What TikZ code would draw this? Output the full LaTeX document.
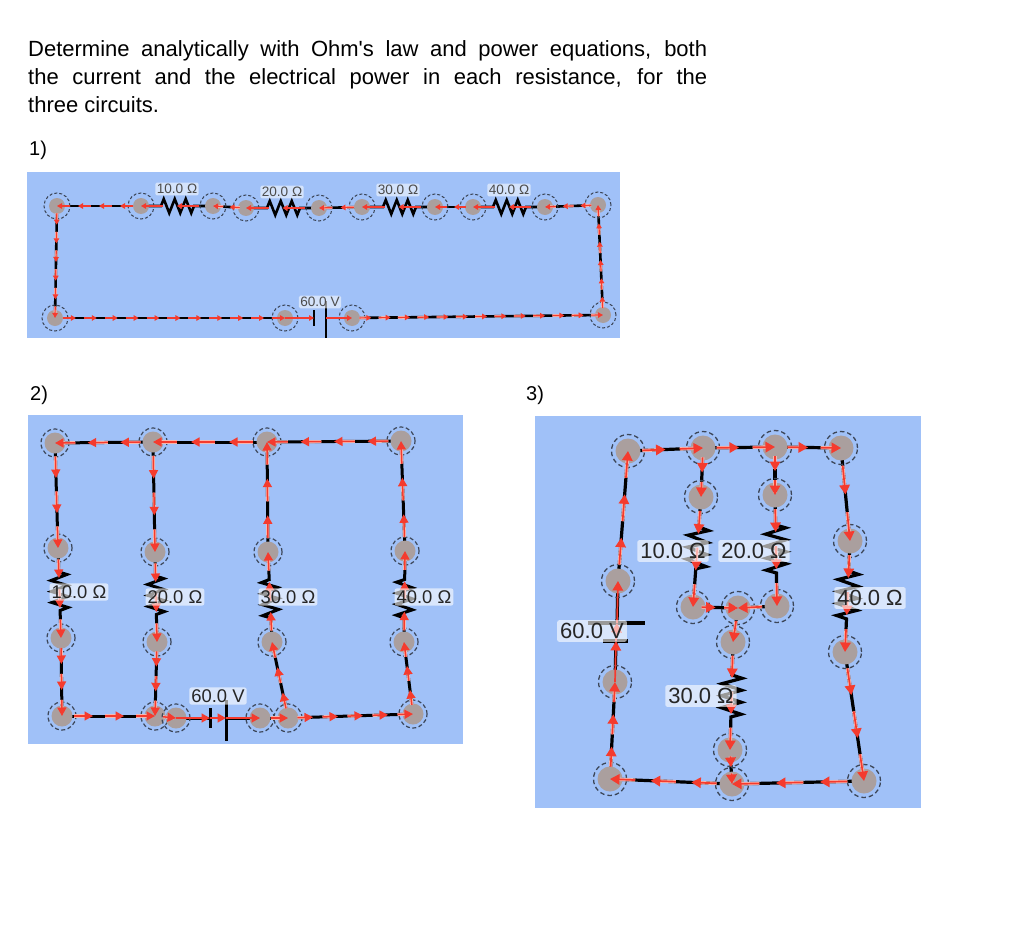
\documentclass[tikz,border=0pt]{standalone}
\usepackage{fontspec}
\newfontfamily\hv{Liberation Sans}
\usetikzlibrary{calc,arrows.meta,decorations.pathmorphing}
\pgfdeclarelayer{wirelayer}\pgfdeclarelayer{arrowlayer}\pgfdeclarelayer{labellayer}
\pgfsetlayers{wirelayer,main,arrowlayer,labellayer}
\definecolor{panel}{HTML}{A0C1F8}
\definecolor{disc}{HTML}{AA9F9E}
\definecolor{ringc}{HTML}{3C4658}
\definecolor{flowred}{HTML}{F43B2E}
\definecolor{halo}{HTML}{F6B7B0}
\tikzset{
  panelbox/.style={fill=panel,draw=none},
  para/.style={font=\hv\fontsize{22}{28}\selectfont,anchor=north west,inner sep=0pt,align=left},
  tag/.style={font=\hv\fontsize{20}{24}\selectfont,anchor=base west,inner sep=0pt},
  jnA/.style={circle,fill=disc,minimum size=16pt,inner sep=0pt},
  jnB/.style={circle,fill=disc,minimum size=21pt,inner sep=0pt},
  jnC/.style={circle,fill=disc,minimum size=25pt,inner sep=0pt},
  ringA/.style={circle,draw=ringc,dash pattern=on 3pt off 2pt,line width=1pt,minimum size=26pt,inner sep=0pt},
  ringB/.style={circle,draw=ringc,dash pattern=on 4pt off 2.5pt,line width=1.2pt,minimum size=28pt,inner sep=0pt},
  ringC/.style={circle,draw=ringc,dash pattern=on 4.5pt off 3pt,line width=1.3pt,minimum size=33pt,inner sep=0pt},
  wireS/.style={black,line width=2.6pt},
  wireM/.style={black,line width=3pt},
  wireL/.style={black,line width=3.2pt},
  arrS/.style={flowred,line width=1.2pt,-{Triangle[length=5pt,width=5.5pt]}},
  arrM/.style={flowred,line width=1.5pt,-{Triangle[length=8.5pt,width=9pt]}},
  arrL/.style={flowred,line width=1.7pt,-{Triangle[length=9.5pt,width=10.5pt]}},
  haloS/.style={halo,line width=2.8pt},
  haloM/.style={halo,line width=3.2pt},
  haloL/.style={halo,line width=3.4pt},
  lblS/.style={fill=white,fill opacity=.55,text opacity=1,text=black!70,rounded corners=1.5pt,font=\hv\fontsize{13.6}{15}\selectfont,inner xsep=1.5pt,inner ysep=1.5pt},
  lblM/.style={fill=white,fill opacity=.6,text opacity=1,text=black!85,rounded corners=2pt,font=\hv\fontsize{18.4}{20}\selectfont,inner xsep=2pt,inner ysep=2pt},
  lblL/.style={fill=white,fill opacity=.6,text opacity=1,text=black!85,rounded corners=2pt,font=\hv\fontsize{22}{24}\selectfont,inner xsep=3pt,inner ysep=3pt},
}
% junction: size key, name, x, y
\newcommand\jn[4]{%
  \node[jn#1] (#2) at (#3,#4) {};
  \node[ring#1] at (#3,#4) {};}
% flow: size key, from, to, number of arrows
\newcommand\flow[4]{%
  \begin{pgfonlayer}{wirelayer}\draw[wire#1] (#2.center) -- (#3.center);\end{pgfonlayer}%
  \flowarrows{#1}{#2}{#3}{#4}}
\newcommand\flowarrows[4]{%
  \begin{pgfonlayer}{arrowlayer}%
  \foreach \i in {1,...,#4}{%
    \pgfmathsetmacro\tl{(\i-0.62)/#4}\pgfmathsetmacro\hd{\i/#4}\pgfmathsetmacro\hm{(\i-0.1)/#4}%
    \draw[halo#1] ($(#2.center)!\tl!(#3.center)$) -- ($(#2.center)!\hm!(#3.center)$);
    \draw[arr#1] ($(#2.center)!\tl!(#3.center)$) -- ($(#2.center)!\hd!(#3.center)$);}%
  \end{pgfonlayer}}
% resistor: size key, from, to, arrows, amplitude, segment, pre, post
\newcommand\res[8]{%
  \begin{pgfonlayer}{wirelayer}\draw[wire#1,line join=miter,decorate,decoration={zigzag,amplitude=#5pt,segment length=#6pt,pre=lineto,pre length=#7pt,post=lineto,post length=#8pt}] (#2.center) -- (#3.center);\end{pgfonlayer}%
  \flowarrows{#1}{#2}{#3}{#4}}
\begin{document}
\begin{tikzpicture}[x=1pt,y=-1pt,every node/.append style={font=\hv}]
\useasboundingbox (0,0) rectangle (1024,936);
\begin{pgfonlayer}{wirelayer}
\fill[white] (0,0) rectangle (1024,936);
\fill[panelbox] (27,172) rectangle (620,338);
\fill[panelbox] (28,415) rectangle (463,744);
\fill[panelbox] (535,416) rectangle (921,808);
\end{pgfonlayer}
\node[para] (intro) at (28,40) {\makebox[679pt][s]{Determine analytically with Ohm's law and power equations, both}\\
\makebox[679pt][s]{the current and the electrical power in each resistance, for the}\\
three circuits.};
\node[tag] (t1) at (29,156) {1)};
\node[tag] (t2) at (30,400) {2)};
\node[tag] (t3) at (526,400) {3)};

% ---------- circuit 1
\jn{A}{a1}{57}{206}\jn{A}{a2}{141}{206}\jn{A}{a3}{213}{206}\jn{A}{a4}{246}{208}
\jn{A}{a5}{319}{208}\jn{A}{a6}{362}{207}\jn{A}{a7}{435}{207}\jn{A}{a8}{473}{207}
\jn{A}{a9}{545}{207}\jn{A}{a10}{598}{205}\jn{A}{a11}{603}{315}\jn{A}{a12}{352}{318}
\jn{A}{a13}{285}{318}\jn{A}{a14}{55}{318}
\flow{S}{a10}{a9}{3}
\res{S}{a9}{a8}{2}{7}{11}{19}{19}
\flow{S}{a8}{a7}{2}
\res{S}{a7}{a6}{2}{7}{11}{19}{19}
\flow{S}{a6}{a5}{2}
\res{S}{a5}{a4}{2}{7}{11}{19}{19}
\flow{S}{a4}{a3}{2}
\res{S}{a3}{a2}{2}{7}{11}{19}{19}
\flow{S}{a2}{a1}{4}
\flow{S}{a1}{a14}{6}
\flow{S}{a14}{a13}{11}
\flow{S}{a11}{a10}{6}
\flow{S}{a12}{a11}{13}
\coordinate (b1a) at (314,318);\coordinate (b1b) at (326,318);
\begin{pgfonlayer}{wirelayer}
\draw[wireS] (a13.center) -- (b1a) (b1b) -- (a12.center);
\draw[black,line width=2.4pt] (314,310) -- (314,326) (326,301) -- (326,338);
\end{pgfonlayer}
\begin{pgfonlayer}{arrowlayer}
\draw[arrS] (a13.center) -- (b1a);\draw[arrS] (b1b) -- (a12.center);
\end{pgfonlayer}
\begin{pgfonlayer}{labellayer}
\node[lblS] (l1) at (177,189) {10.0 Ω};
\node[lblS] (l2) at (282,192) {20.0 Ω};
\node[lblS] (l3) at (398,190) {30.0 Ω};
\node[lblS] (l4) at (509,190) {40.0 Ω};
\node[lblS] (l5) at (320,302) {60.0 V};
\end{pgfonlayer}

% ---------- circuit 2
\jn{B}{b1}{55}{443}\jn{B}{b2}{153}{442}\jn{B}{b3}{267}{442}\jn{B}{b4}{401}{441}
\jn{B}{b5}{58}{548}\jn{B}{b6}{155}{552}\jn{B}{b7}{268}{552}\jn{B}{b8}{405}{551}
\jn{B}{b9}{61}{638}\jn{B}{b10}{157}{642}\jn{B}{b11}{272}{642}\jn{B}{b12}{404}{642}
\jn{B}{b13}{62}{716}\jn{B}{b14}{155}{716}\jn{B}{b15}{176}{718}\jn{B}{b16}{260}{718}
\jn{B}{b17}{288}{718}\jn{B}{b18}{413}{714}
\flow{M}{b4}{b3}{4}\flow{M}{b3}{b2}{3}\flow{M}{b2}{b1}{3}
\flow{M}{b1}{b5}{3}\flow{M}{b2}{b6}{3}\flow{M}{b7}{b3}{3}\flow{M}{b8}{b4}{3}
\res{M}{b5}{b9}{3}{8}{11}{24}{24}
\res{M}{b6}{b10}{3}{8}{11}{24}{24}
\res{M}{b11}{b7}{3}{8}{11}{24}{24}
\res{M}{b12}{b8}{3}{8}{11}{24}{24}
\flow{M}{b9}{b13}{3}\flow{M}{b10}{b14}{3}
\flow{M}{b17}{b11}{3}\flow{M}{b18}{b12}{3}
\flow{M}{b13}{b14}{3}\flow{M}{b14}{b15}{1}
\flow{M}{b16}{b17}{1}\flow{M}{b17}{b18}{5}
\coordinate (b2a) at (210,718);\coordinate (b2b) at (226,718);
\begin{pgfonlayer}{wirelayer}
\draw[wireM] (b15.center) -- (b2a) (b2b) -- (b16.center);
\draw[black,line width=3pt] (210,708) -- (210,728) (226,700) -- (226,741);
\end{pgfonlayer}
\begin{pgfonlayer}{arrowlayer}
\draw[arrM] (b15.center) -- (b2a);\draw[arrM] (b2a) -- (b2b);\draw[arrM] (b2b) -- (b16.center);
\end{pgfonlayer}
\begin{pgfonlayer}{labellayer}
\node[lblM] (m1) at (79,592) {10.0 Ω};
\node[lblM] (m2) at (175,597) {20.0 Ω};
\node[lblM] (m3) at (288,597) {30.0 Ω};
\node[lblM] (m4) at (424,597) {40.0 Ω};
\node[lblM] (m5) at (218,696) {60.0 V};
\end{pgfonlayer}

% ---------- circuit 3
\jn{C}{c1}{628}{451}\jn{C}{c2}{703}{448}\jn{C}{c3}{775}{447}\jn{C}{c4}{841}{448}
\jn{C}{c5}{701}{497}\jn{C}{c6}{775}{495}\jn{C}{c7}{850}{541}
\jn{C}{c8}{618}{581}\jn{C}{c9}{693}{607}\jn{C}{c10}{738}{608}\jn{C}{c11}{777}{606}
\jn{C}{c12}{845}{652}\jn{C}{c13}{733}{642}\jn{C}{c14}{615}{682}\jn{C}{c15}{730}{750}
\jn{C}{c16}{610}{779}\jn{C}{c17}{732}{784}\jn{C}{c18}{864}{781}
\flow{L}{c1}{c2}{2}\flow{L}{c2}{c3}{2}\flow{L}{c3}{c4}{2}
\flow{L}{c2}{c5}{2}\flow{L}{c3}{c6}{2}\flow{L}{c4}{c7}{2}
\res{L}{c5}{c9}{3}{10}{12}{30}{33}
\res{L}{c6}{c11}{3}{10}{12}{30}{33}
\res{L}{c7}{c12}{3}{10}{12}{30}{33}
\flow{L}{c9}{c10}{2}\flow{L}{c11}{c10}{1}\flow{L}{c10}{c13}{1}
\res{L}{c13}{c15}{3}{10}{12}{33}{33}
\flow{L}{c15}{c17}{2}
\flow{L}{c12}{c18}{3}\flow{L}{c18}{c17}{3}\flow{L}{c17}{c16}{3}
\flow{L}{c16}{c14}{3}
\flow{L}{c8}{c1}{3}
\coordinate (c3a) at (616,641);\coordinate (c3b) at (617,623);
\begin{pgfonlayer}{wirelayer}
\draw[wireL] (c14.center) -- (c3a) (c3b) -- (c8.center);
\draw[black,line width=3.2pt] (603,641) -- (628,641) (588,623) -- (645,623);
\end{pgfonlayer}
\begin{pgfonlayer}{arrowlayer}
\draw[arrL] (c14.center) -- (c3a);\draw[arrL] (c3a) -- (c3b);\draw[arrL] (c3b) -- (c8.center);
\end{pgfonlayer}
\begin{pgfonlayer}{labellayer}
\node[lblL] (n1) at (673,551) {10.0 Ω};
\node[lblL] (n2) at (754,551) {20.0 Ω};
\node[lblL] (n3) at (701,696) {30.0 Ω};
\node[lblL] (n4) at (870,598) {40.0 Ω};
\node[lblL] (n5) at (592,631) {60.0 V};
\end{pgfonlayer}
\end{tikzpicture}
\end{document}
